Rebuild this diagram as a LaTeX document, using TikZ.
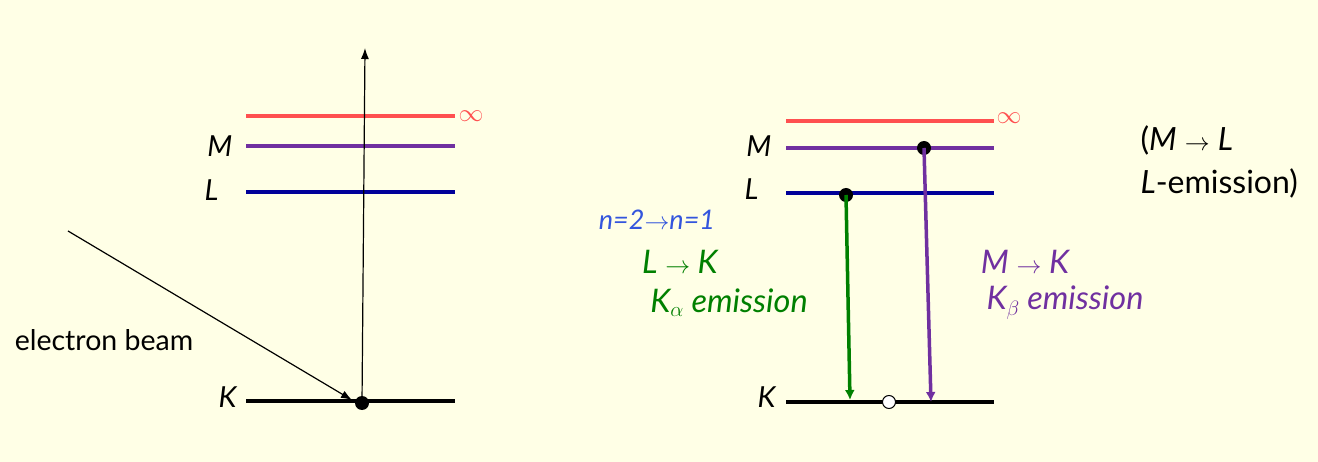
\documentclass[tikz,border=0pt]{standalone}
\usepackage{fontspec}
\setmainfont{Lato}
\usetikzlibrary{arrows.meta}
\definecolor{bg}{HTML}{FFFFE6}
\definecolor{lred}{HTML}{FF5050}
\definecolor{lpur}{HTML}{7030A0}
\definecolor{lblue}{HTML}{000099}
\definecolor{lgreen}{HTML}{008000}
\definecolor{hblue}{HTML}{3355DD}
\begin{document}
\begin{tikzpicture}[x=1pt,y=-1pt,
  lvl/.style={line width=3.5pt},
  lab/.style={font=\fontsize{29}{33}\selectfont\itshape},
  txt/.style={font=\fontsize{32.5}{36}\selectfont\itshape},
  dot/.style={circle,fill=black,inner sep=0pt,minimum size=14pt},
  odot/.style={circle,draw=black,line width=1pt,fill=white,inner sep=0pt,minimum size=13pt}]
\fill[bg] (0,0) rectangle (1318,462);
\useasboundingbox (0,0) rectangle (1318,462);
% left
\coordinate (a1) at (246,116); \coordinate (a2) at (455,116);
\coordinate (b1) at (246,146); \coordinate (b2) at (455,146);
\coordinate (c1) at (246,192); \coordinate (c2) at (455,192);
\coordinate (d1) at (246,401); \coordinate (d2) at (455,401);
\draw[lvl,lred] (a1)--(a2); \draw[lvl,lpur] (b1)--(b2);
\draw[lvl,lblue] (c1)--(c2); \draw[lvl,black] (d1)--(d2);
\node[lred,font=\fontsize{28}{32}\selectfont] (inf1) at (471,116) {$\infty$};
\node[lab,anchor=east] (lM1) at (236,146) {M};
\node[lab,anchor=east] (lL1) at (222,190) {L};
\node[lab,anchor=east] (lK1) at (240,397) {K};
\node[dot] (e) at (362,403) {};
\coordinate (top) at (365,48);
\draw[-{Latex[length=11pt,width=8pt]},line width=1.2pt] (e.center) -- (top);
\coordinate (beam) at (68,231);
\draw[-{Latex[length=11pt,width=8pt]},line width=1.2pt] (beam) -- (352,400);
\node[font=\fontsize{28.5}{32}\selectfont] (eb) at (104,340) {electron beam};
% right
\coordinate (A1) at (786,121); \coordinate (A2) at (994,121);
\coordinate (B1) at (786,148); \coordinate (B2) at (994,148);
\coordinate (C1) at (786,193); \coordinate (C2) at (994,193);
\coordinate (D1) at (786,402); \coordinate (D2) at (994,402);
\draw[lvl,lred] (A1)--(A2); \draw[lvl,lpur] (B1)--(B2);
\draw[lvl,lblue] (C1)--(C2); \draw[lvl,black] (D1)--(D2);
\node[lred,font=\fontsize{28}{32}\selectfont] (inf2) at (1009,118) {$\infty$};
\node[lab,anchor=east] (lM2) at (775,146) {M};
\node[lab,anchor=east] (lL2) at (762,189) {L};
\node[lab,anchor=east] (lK2) at (779,397) {K};
\node[dot] (pL) at (846,195) {};
\node[dot] (pM) at (924,148) {};
\coordinate (gE) at (850,400); \coordinate (pE) at (931,402);
\draw[lgreen,line width=3.5pt,-{Latex[length=10pt,width=10pt]}] (pL.center) -- (gE);
\draw[lpur,line width=3.5pt,-{Latex[length=10pt,width=10pt]}] (pM.center) -- (pE);
\node[odot] (hole) at (889,402) {};
\node[txt,lgreen] (t1) at (680,262) {L $\rightarrow$ K};
\node[txt,lgreen] (t2) at (729,303) {K$_\alpha$ emission};
\node[txt,lpur] (t3) at (1025,262) {M $\rightarrow$ K};
\node[txt,lpur] (t4) at (1065,303) {K$_\beta$ emission};
\node[hblue,font=\fontsize{27}{30}\selectfont\itshape] (hw) at (657,220) {n=2$\rightarrow$n=1};
\node[font=\fontsize{32}{36}\selectfont,anchor=west] (r1) at (1137,140) {(\textit{M} $\rightarrow$ \textit{L}};
\node[font=\fontsize{32}{36}\selectfont,anchor=west] (r2) at (1137,183) {\textit{L}-emission)};
\end{tikzpicture}
\end{document}
